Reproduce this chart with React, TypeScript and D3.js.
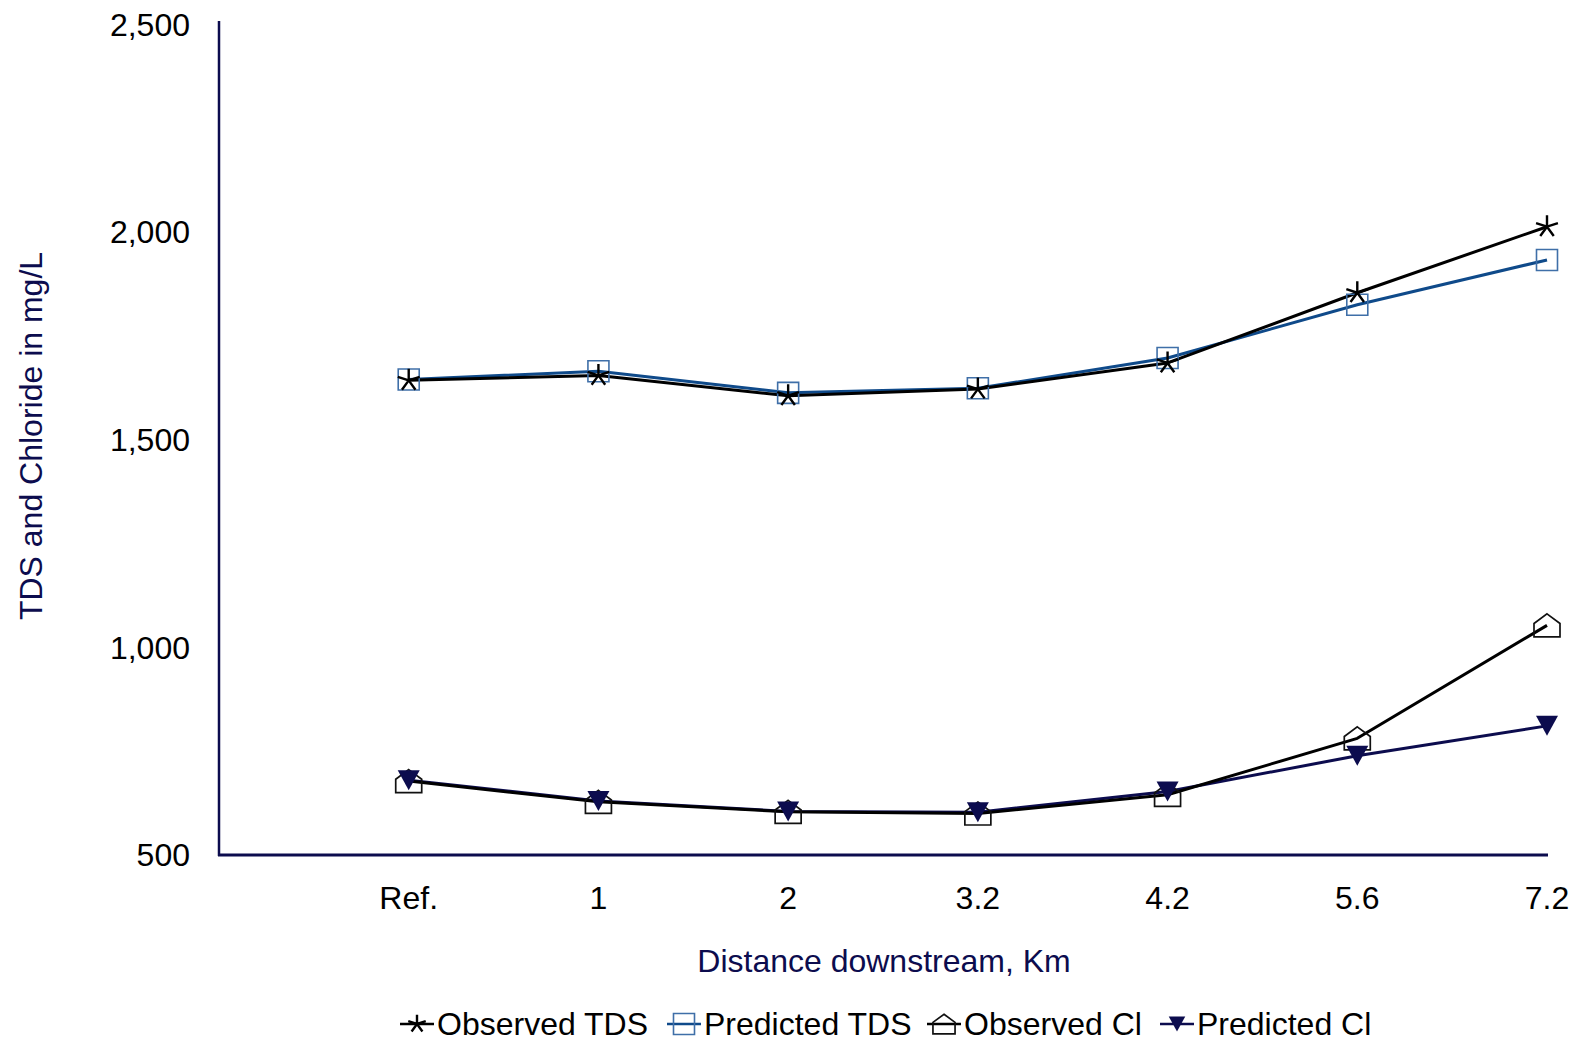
import React from "react";
import * as d3 from "d3";

// Sampling stations along the stream (first slot left empty so "Ref." sits off the axis)
const categories = ["Ref.", "1", "2", "3.2", "4.2", "5.6", "7.2"];
const observedTDS = [1643, 1655, 1606, 1622, 1685, 1854, 2013];
const predictedTDS = [1645, 1665, 1613, 1624, 1697, 1825, 1933];
const observedCl = [678, 628, 604, 600, 645, 781, 1053];
const predictedCl = [680, 630, 605, 603, 653, 739, 811];
const yTicks = [500, 1000, 1500, 2000, 2500];

const W = 1581;
const H = 1042;
const FONT = "'Liberation Sans', Arial, Helvetica, sans-serif";
const FS = 32;
const NAVY = "#0c0c4e";
const BLUE_LINE = "#0f4a8a";
const BLUE_MARK = "#3f6fa8";

const x = d3.scalePoint<string>().domain(["", ...categories]).range([219, 1547]);
const y = d3.scaleLinear().domain([500, 2500]).range([855, 24.5]);

type Pt = [number, number];
const toPts = (vals: number[]): Pt[] => vals.map((v, i) => [x(categories[i]) as number, y(v)]);
const line = d3.line<Pt>().x((d) => d[0]).y((d) => d[1]);

// Five-armed asterisk
function asteriskPath(cx: number, cy: number, r: number) {
  let p = "";
  for (let k = 0; k < 5; k++) {
    const a = -Math.PI / 2 + (k * 2 * Math.PI) / 5;
    p += `M${cx},${cy}L${cx + r * Math.cos(a)},${cy + r * Math.sin(a)}`;
  }
  return p;
}
function squarePath(cx: number, cy: number, s: number) {
  const h = s / 2;
  return `M${cx - h},${cy - h}H${cx + h}V${cy + h}H${cx - h}Z`;
}
// House-shaped pentagon
function housePath(cx: number, cy: number, w: number, h: number) {
  const hw = w / 2;
  const top = cy - h / 2;
  const bot = cy + h / 2;
  const eave = top + h * 0.42;
  return `M${cx},${top}L${cx + hw},${eave}V${bot}H${cx - hw}V${eave}Z`;
}
function triDownPath(cx: number, cy: number, w: number, h: number) {
  return `M${cx - w / 2},${cy - h / 2}H${cx + w / 2}L${cx},${cy + h / 2}Z`;
}

type Kind = "asterisk" | "square" | "house" | "tri";
function Marker({ kind, cx, cy, s = 1 }: { kind: Kind; cx: number; cy: number; s?: number }) {
  if (kind === "asterisk")
    return <path d={asteriskPath(cx, cy, 11.5 * s)} stroke="#000" strokeWidth={2.4} fill="none" />;
  if (kind === "square")
    return <path d={squarePath(cx, cy, 21 * s)} stroke={BLUE_MARK} strokeWidth={1.6} fill="none" />;
  if (kind === "house")
    return <path d={housePath(cx, cy, 26 * s, 23 * s)} stroke="#111" strokeWidth={1.7} fill="none" />;
  return <path d={triDownPath(cx, cy, 22 * s, 20 * s)} fill={NAVY} stroke="none" />;
}

const series = [
  { name: "Observed TDS", values: observedTDS, color: "#000", kind: "asterisk" as Kind },
  { name: "Predicted TDS", values: predictedTDS, color: BLUE_LINE, kind: "square" as Kind },
  { name: "Observed Cl", values: observedCl, color: "#000", kind: "house" as Kind },
  { name: "Predicted Cl", values: predictedCl, color: NAVY, kind: "tri" as Kind },
];
const lineOrder = [1, 0, 3, 2];
const legendX = [400, 667, 927, 1160];
const legendScale = [0.8, 1, 0.85, 0.75];

export default function App() {
  return (
    <svg
      width={W}
      height={H}
      style={{ position: "absolute", left: 0, top: 0, background: "#fff" }}
      fontFamily={FONT}
    >
      {/* axes */}
      <line x1={219} x2={219} y1={21} y2={856} stroke={NAVY} strokeWidth={2.5} />
      <line x1={218} x2={1548} y1={855} y2={855} stroke={NAVY} strokeWidth={3} />

      {yTicks.map((t) => (
        <text key={t} x={190} y={y(t)} dy="0.355em" textAnchor="end" fontSize={FS} fill="#000">
          {d3.format(",")(t)}
        </text>
      ))}
      {categories.map((c) => (
        <text key={c} x={x(c)} y={909} textAnchor="middle" fontSize={FS} fill="#000">
          {c}
        </text>
      ))}

      <text x={884} y={972} textAnchor="middle" fontSize={FS} fill={NAVY}>
        Distance downstream, Km
      </text>
      <text
        transform="translate(42,436) rotate(-90)"
        textAnchor="middle"
        fontSize={FS}
        fill={NAVY}
      >
        TDS and Chloride in mg/L
      </text>

      {/* lines */}
      {lineOrder.map((i) => (
        <path
          key={series[i].name}
          d={line(toPts(series[i].values)) as string}
          stroke={series[i].color}
          strokeWidth={3}
          fill="none"
          strokeLinejoin="round"
        />
      ))}

      {/* markers */}
      {[1, 0, 2, 3].map((i) =>
        toPts(series[i].values).map((p, j) => (
          <Marker key={`${i}-${j}`} kind={series[i].kind} cx={p[0]} cy={p[1]} />
        ))
      )}

      {/* legend */}
      {series.map((s, i) => (
        <g key={s.name}>
          <line
            x1={legendX[i]}
            x2={legendX[i] + 34}
            y1={1024}
            y2={1024}
            stroke={s.color}
            strokeWidth={2.5}
          />
          <Marker kind={s.kind} cx={legendX[i] + 17} cy={1024} s={legendScale[i]} />
          <text x={legendX[i] + 37} y={1035} fontSize={FS} fill="#000">
            {s.name}
          </text>
        </g>
      ))}
    </svg>
  );
}
